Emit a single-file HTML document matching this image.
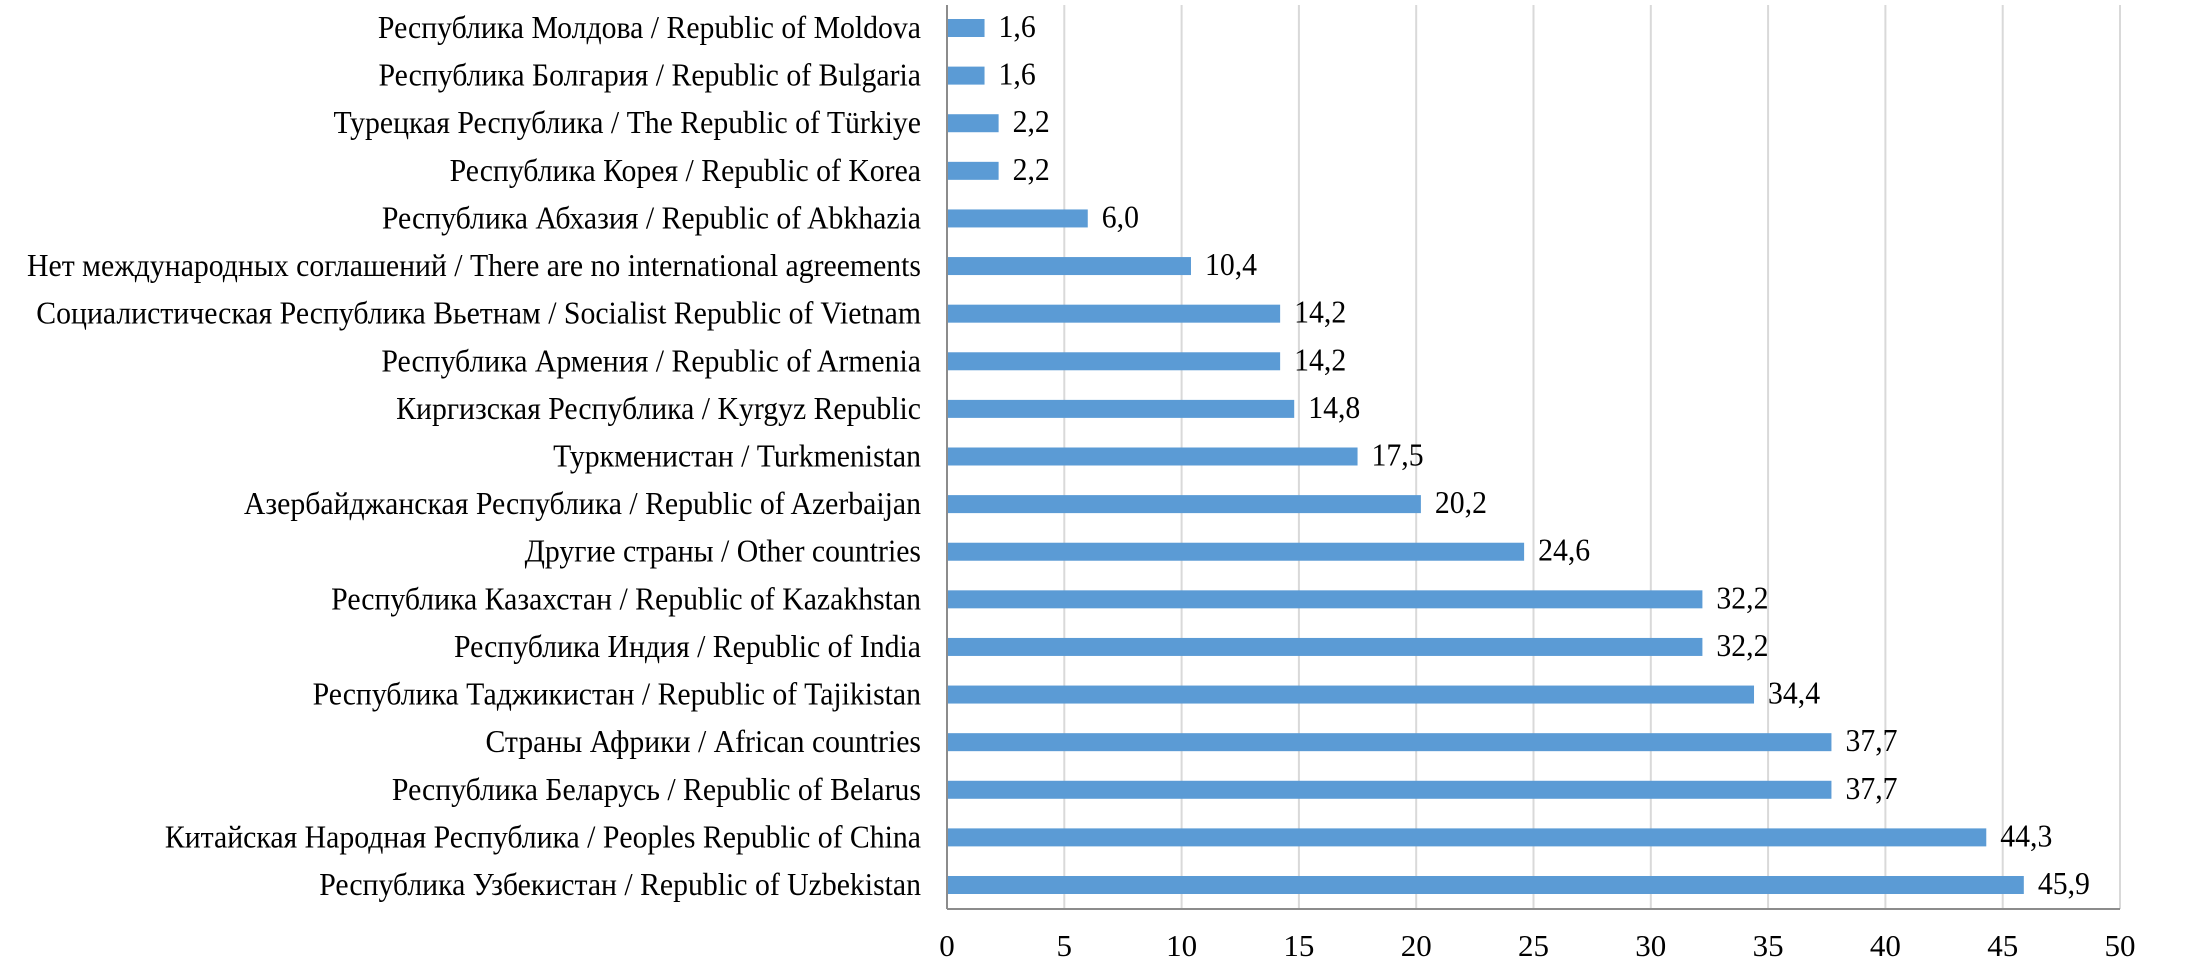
<!DOCTYPE html>
<html><head><meta charset="utf-8"><style>
html,body{margin:0;padding:0;background:#fff;}
svg text{font-family:"Liberation Serif","Noto Serif CJK SC",serif;fill:#000;}
</style></head><body>
<svg id="chart" width="2191" height="969" xmlns="http://www.w3.org/2000/svg">
<g id="grid"></g>
<g id="bars"></g>
<g id="cats"></g>
<g id="vals"></g>
<g id="ticks"></g>
</svg>
<script>
const categories = [
"Республика Молдова / Republic of Moldova",
"Республика Болгария / Republic of Bulgaria",
"Турецкая Республика / The Republic of Türkiye",
"Республика Корея / Republic of Korea",
"Республика Абхазия / Republic of Abkhazia",
"Нет международных соглашений / There are no international agreements",
"Социалистическая Республика Вьетнам / Socialist Republic of Vietnam",
"Республика Армения / Republic of Armenia",
"Киргизская Республика / Kyrgyz Republic",
"Туркменистан / Turkmenistan",
"Азербайджанская Республика / Republic of Azerbaijan",
"Другие страны / Other countries",
"Республика Казахстан / Republic of Kazakhstan",
"Республика Индия / Republic of India",
"Республика Таджикистан / Republic of Tajikistan",
"Страны Африки / African countries",
"Республика Беларусь / Republic of Belarus",
"Китайская Народная Республика / Peoples Republic of China",
"Республика Узбекистан / Republic of Uzbekistan"
];
const values = [1.6,1.6,2.2,2.2,6.0,10.4,14.2,14.2,14.8,17.5,20.2,24.6,32.2,32.2,34.4,37.7,37.7,44.3,45.9];
const tickValues = [0,5,10,15,20,25,30,35,40,45,50];

const NS="http://www.w3.org/2000/svg";
const X0=947, X1=2120, VMAX=50, TOP=5, AXISY=909, ROW0=28, ROWN=885, BARH=18;
const xs = v => X0 + (v/VMAX)*(X1-X0);
const ys = i => ROW0 + i*(ROWN-ROW0)/(categories.length-1);
function mk(tag, attrs, parent){const e=document.createElementNS(NS,tag);for(const k in attrs)e.setAttribute(k,attrs[k]);parent.appendChild(e);return e;}
const grid=document.getElementById('grid'), bars=document.getElementById('bars'), cats=document.getElementById('cats'), vals=document.getElementById('vals'), ticks=document.getElementById('ticks');

tickValues.forEach(t=>{
  if(t>0){
    const l=mk('line',{x1:xs(t),x2:xs(t),y1:TOP,y2:AXISY,stroke:'#d9d9d9','stroke-width':2},grid);
    
    
  }
  const tx=mk('text',{x:xs(t),y:956,'text-anchor':'middle','font-size':31},ticks);
  tx.textContent=String(t);
  
  
});
const ax=mk('line',{x1:X0,x2:X1,y1:AXISY,y2:AXISY,stroke:'#8c8c8c','stroke-width':2},grid);


const ay=mk('line',{x1:X0,x2:X0,y1:TOP,y2:AXISY,stroke:'#8c8c8c','stroke-width':2},grid);



categories.forEach((c,i)=>{
  const y=ys(i);
  const r=mk('rect',{x:X0+1,y:y-BARH/2,width:xs(values[i])-X0-1,height:BARH,fill:'#5b9bd5'},bars);
  
  
  const g=mk('g',{transform:'translate(921,'+(y+10)+') scale(0.93,1)'},cats);
  const t=mk('text',{x:0,y:0,'text-anchor':'end','font-size':32},g);
  t.textContent=c;
  
  
  const vg=mk('g',{transform:'translate('+(xs(values[i])+14)+','+(y+9)+') scale(0.93,1)'},vals);
  const v=mk('text',{x:0,y:0,'font-size':32},vg);
  v.textContent=values[i].toFixed(1).replace('.',',');
  
  
});
</script>
</body></html>
